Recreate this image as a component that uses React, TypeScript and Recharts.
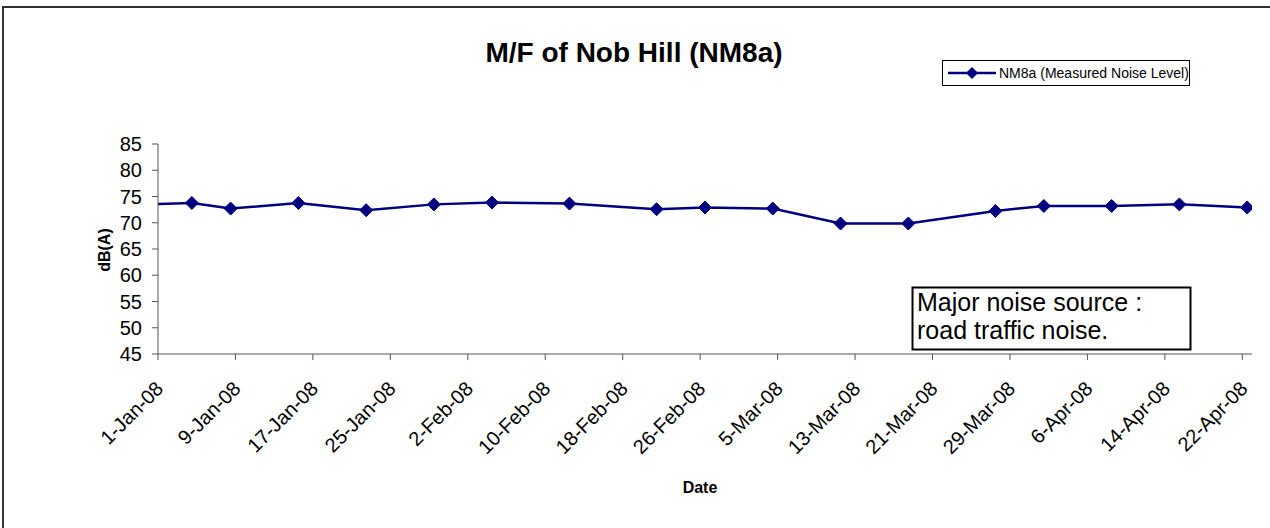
import React from "react";
import { LineChart, Line, XAxis, YAxis, Legend } from "recharts";

// ---- data ----
const measureDates: string[] = [
  "2007-12-31T12:00",
  "2008-01-04T12:00",
  "2008-01-08T12:00",
  "2008-01-15T12:00",
  "2008-01-22T12:00",
  "2008-01-29T12:00",
  "2008-02-04T12:00",
  "2008-02-12T12:00",
  "2008-02-21T12:00",
  "2008-02-26T12:00",
  "2008-03-04T12:00",
  "2008-03-11T12:00",
  "2008-03-18T12:00",
  "2008-03-27T12:00",
  "2008-04-01T12:00",
  "2008-04-08T12:00",
  "2008-04-15T12:00",
  "2008-04-22T12:00",
];
const noiseLevels: number[] = [
  73.55, 73.77, 72.7, 73.77, 72.4, 73.5, 73.84, 73.65, 72.57, 72.9, 72.7,
  69.86, 69.86, 72.25, 73.2, 73.2, 73.5, 72.9,
];
const tickDates: string[] = [
  "2008-01-01", "2008-01-09", "2008-01-17", "2008-01-25", "2008-02-02",
  "2008-02-10", "2008-02-18", "2008-02-26", "2008-03-05", "2008-03-13",
  "2008-03-21", "2008-03-29", "2008-04-06", "2008-04-14", "2008-04-22",
];
const xDomainDates: string[] = ["2008-01-01", "2008-04-23"];
const yTicks: number[] = [45, 50, 55, 60, 65, 70, 75, 80, 85];
const seriesName = "NM8a (Measured Noise Level)";
const titleText = "M/F of Nob Hill (NM8a)";
const xTitle = "Date";
const yTitle = "dB(A)";
const noteLines: string[] = ["Major noise source :", "road traffic noise."];

const MONTHS = ["Jan", "Feb", "Mar", "Apr", "May", "Jun", "Jul", "Aug", "Sep", "Oct", "Nov", "Dec"];
const toTs = (s: string) => new Date((s.length === 10 ? s + "T00:00" : s) + ":00Z").getTime();
const fmtDate = (t: number) => {
  const d = new Date(t);
  return `${d.getUTCDate()}-${MONTHS[d.getUTCMonth()]}-${String(d.getUTCFullYear()).slice(2)}`;
};

const data = measureDates.map((s, i) => ({ t: toTs(s), v: noiseLevels[i] }));
const ticks = tickDates.map(toTs);
const xDomain = xDomainDates.map(toTs);

const FONT = '"Liberation Sans", Arial, sans-serif';
const NAVY = "#000080";
const AXIS = "#555555";

const Diamond = (props: any) => {
  const { cx, cy, payload, index } = props;
  if (cx == null || cy == null || payload.t < xDomain[0]) return <g key={`d${index}`} />;
  const r = 6.5;
  return (
    <path
      key={`d${index}`}
      d={`M${cx},${cy - r}L${cx + r},${cy}L${cx},${cy + r}L${cx - r},${cy}Z`}
      fill={NAVY}
      stroke={NAVY}
      strokeWidth={1}
    />
  );
};

const XTick = (props: any) => {
  const { x, payload } = props;
  const ax = x + 1.5;
  const ay = 354 + 31;
  return (
    <text
      x={ax}
      y={ay}
      dy="0.35em"
      textAnchor="end"
      transform={`rotate(-45 ${ax} ${ay})`}
      fontFamily={FONT}
      fontSize={20}
      fill="#000"
    >
      {fmtDate(payload.value)}
    </text>
  );
};

const LegendBox = () => (
  <svg width={248} height={26} style={{ display: "block" }}>
    <rect x={0.5} y={0.5} width={247} height={25} fill="#fff" stroke="#000" strokeWidth={1} />
    <line x1={6} y1={13} x2={54} y2={13} stroke={NAVY} strokeWidth={2.5} />
    <path d="M30,7L36,13L30,19L24,13Z" fill={NAVY} />
    <text x={57} y={18} fontFamily={FONT} fontSize={14} fill="#000">
      {seriesName}
    </text>
  </svg>
);

export default function App() {
  return (
    <div
      style={{
        position: "absolute",
        left: 0,
        top: 0,
        width: 1270,
        height: 528,
        overflow: "hidden",
        background: "#fff",
      }}
    >
      <div
        style={{
          position: "absolute",
          left: 2,
          top: 6,
          width: 1400,
          height: 700,
          borderLeft: "2px solid #333",
          borderTop: "2px solid #333",
        }}
      />
      <div style={{ position: "absolute", left: 0, top: 0 }}>
        <LineChart
          width={1270}
          height={528}
          data={data}
          margin={{ top: 144, right: 18, left: 0, bottom: 74 }}
        >
          <XAxis
            dataKey="t"
            type="number"
            domain={xDomain}
            allowDataOverflow
            ticks={ticks}
            interval={0}
            height={100}
            tickSize={6}
            tickMargin={0}
            stroke={AXIS}
            tickLine={{ stroke: AXIS }}
            tick={<XTick />}
          />
          <YAxis
            type="number"
            domain={[45, 85]}
            ticks={yTicks}
            interval={0}
            width={158}
            tickSize={6}
            tickMargin={10}
            stroke={AXIS}
            tick={{ fontFamily: FONT, fontSize: 20, fill: "#000" }}
          />
          <Legend
            layout="horizontal"
            verticalAlign="middle"
            align="center"
            content={<LegendBox />}
            wrapperStyle={{ left: 942, top: 60, width: 248, height: 26, right: "auto", bottom: "auto" }}
          />
          <Line
            type="linear"
            dataKey="v"
            name={seriesName}
            stroke={NAVY}
            strokeWidth={2.5}
            dot={<Diamond />}
            activeDot={false}
            isAnimationActive={false}
          />
        </LineChart>
      </div>
      <svg
        width={1270}
        height={528}
        style={{ position: "absolute", left: 0, top: 0, pointerEvents: "none" }}
      >
        <text x={634} y={62} textAnchor="middle" fontFamily={FONT} fontSize={28} fontWeight="bold" fill="#000">
          {titleText}
        </text>
        <text x={700} y={493} textAnchor="middle" fontFamily={FONT} fontSize={16} fontWeight="bold" fill="#000">
          {xTitle}
        </text>
        <text
          x={104}
          y={250}
          dy="0.35em"
          textAnchor="middle"
          transform="rotate(-90 104 250)"
          fontFamily={FONT}
          fontSize={16}
          fontWeight="bold"
          fill="#000"
        >
          {yTitle}
        </text>
        <rect x={912.5} y={287.5} width={278} height={62} fill="#fff" stroke="#000" strokeWidth={2} />
        {noteLines.map((l, i) => (
          <text key={i} x={917} y={311 + i * 28} fontFamily={FONT} fontSize={25} fill="#000">
            {l}
          </text>
        ))}
      </svg>
    </div>
  );
}
